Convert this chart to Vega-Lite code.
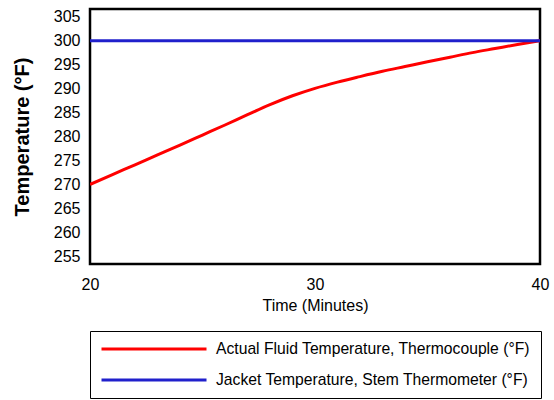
{
  "$schema": "https://vega.github.io/schema/vega-lite/v6.json",
  "width": 450,
  "height": 255,
  "autosize": {"type": "none"},
  "padding": {"left": 90, "top": 9, "right": 14, "bottom": 136},
  "background": "white",
  "config": {
    "view": {"stroke": "black", "strokeWidth": 2.5},
    "font": "Liberation Sans",
    "axis": {
      "labelFont": "Liberation Sans",
      "titleFont": "Liberation Sans",
      "labelColor": "black",
      "titleColor": "black",
      "domain": false,
      "ticks": false,
      "grid": false
    }
  },
  "data": {
    "values": [
      {"t": 20, "v": 270.0, "s": "Actual Fluid Temperature, Thermocouple (°F)"},
      {"t": 21, "v": 272.05, "s": "Actual Fluid Temperature, Thermocouple (°F)"},
      {"t": 22, "v": 274.1, "s": "Actual Fluid Temperature, Thermocouple (°F)"},
      {"t": 23, "v": 276.15, "s": "Actual Fluid Temperature, Thermocouple (°F)"},
      {"t": 24, "v": 278.2, "s": "Actual Fluid Temperature, Thermocouple (°F)"},
      {"t": 25, "v": 280.3, "s": "Actual Fluid Temperature, Thermocouple (°F)"},
      {"t": 26, "v": 282.4, "s": "Actual Fluid Temperature, Thermocouple (°F)"},
      {"t": 27, "v": 284.55, "s": "Actual Fluid Temperature, Thermocouple (°F)"},
      {"t": 28, "v": 286.65, "s": "Actual Fluid Temperature, Thermocouple (°F)"},
      {"t": 29, "v": 288.5, "s": "Actual Fluid Temperature, Thermocouple (°F)"},
      {"t": 30, "v": 290.05, "s": "Actual Fluid Temperature, Thermocouple (°F)"},
      {"t": 31, "v": 291.35, "s": "Actual Fluid Temperature, Thermocouple (°F)"},
      {"t": 32, "v": 292.5, "s": "Actual Fluid Temperature, Thermocouple (°F)"},
      {"t": 33, "v": 293.6, "s": "Actual Fluid Temperature, Thermocouple (°F)"},
      {"t": 34, "v": 294.6, "s": "Actual Fluid Temperature, Thermocouple (°F)"},
      {"t": 35, "v": 295.6, "s": "Actual Fluid Temperature, Thermocouple (°F)"},
      {"t": 36, "v": 296.55, "s": "Actual Fluid Temperature, Thermocouple (°F)"},
      {"t": 37, "v": 297.5, "s": "Actual Fluid Temperature, Thermocouple (°F)"},
      {"t": 38, "v": 298.35, "s": "Actual Fluid Temperature, Thermocouple (°F)"},
      {"t": 39, "v": 299.2, "s": "Actual Fluid Temperature, Thermocouple (°F)"},
      {"t": 40, "v": 300.0, "s": "Actual Fluid Temperature, Thermocouple (°F)"},
      {"t": 20, "v": 300.0, "s": "Jacket Temperature, Stem Thermometer (°F)"},
      {"t": 40, "v": 300.0, "s": "Jacket Temperature, Stem Thermometer (°F)"}
    ]
  },
  "mark": {"type": "line", "strokeWidth": 3, "interpolate": "monotone", "clip": true},
  "encoding": {
    "x": {
      "field": "t",
      "type": "quantitative",
      "scale": {"domain": [20, 40], "nice": false, "zero": false},
      "axis": {
        "values": [20, 30, 40],
        "title": "Time (Minutes)",
        "labelFontSize": 16,
        "titleFontSize": 16,
        "titleFontWeight": "normal",
        "labelPadding": 12,
        "titlePadding": 5,
        "labelFlush": false
      }
    },
    "y": {
      "field": "v",
      "type": "quantitative",
      "scale": {"domain": [253.4, 306.6], "nice": false, "zero": false},
      "axis": {
        "values": [255, 260, 265, 270, 275, 280, 285, 290, 295, 300, 305],
        "title": "Temperature (°F)",
        "labelFontSize": 16,
        "titleFontSize": 20,
        "titleFontWeight": "bold",
        "labelPadding": 10,
        "titlePadding": 21
      }
    },
    "color": {
      "field": "s",
      "type": "nominal",
      "scale": {
        "domain": ["Actual Fluid Temperature, Thermocouple (°F)", "Jacket Temperature, Stem Thermometer (°F)"],
        "range": ["#ff0000", "#2020cc"]
      },
      "legend": {
        "title": null,
        "orient": "none",
        "legendX": 0,
        "legendY": 322,
        "direction": "vertical",
        "strokeColor": "black",
        "padding": 10,
        "symbolType": "stroke",
        "symbolSize": 11025,
        "symbolStrokeWidth": 3,
        "clipHeight": 16,
        "labelFontSize": 15.7,
        "labelFont": "Liberation Sans",
        "labelColor": "black",
        "labelOffset": 8,
        "labelLimit": 500,
        "rowPadding": 15
      }
    }
  }
}
